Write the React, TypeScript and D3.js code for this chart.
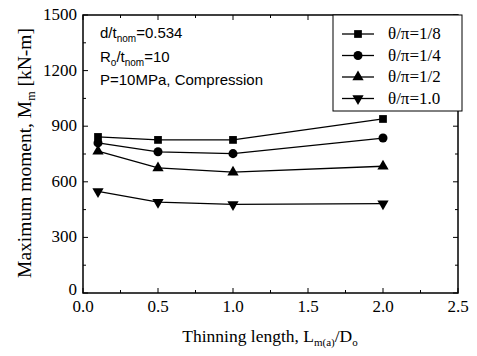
import * as d3 from 'd3';

const xValues = [0.1, 0.5, 1.0, 2.0];
const seriesNames = ['θ/π=1/8', 'θ/π=1/4', 'θ/π=1/2', 'θ/π=1.0'];
const squareVals = [842, 826, 826, 939];
const circleVals = [810, 762, 752, 836];
const triUpVals = [765, 675, 652, 684];
const triDownVals = [548, 490, 478, 482];
const xTicks = [0, 0.5, 1.0, 1.5, 2.0, 2.5];
const yTicks = [0, 300, 600, 900, 1200, 1500];

const W = 477, H = 356;
const M = { left: 83, right: 19, top: 15, bottom: 63 };

const serif = '"Liberation Serif", "Times New Roman", serif';
const sans = '"Liberation Sans", Arial, sans-serif';

const series = [
  { name: seriesNames[0], vals: squareVals, sym: d3.symbolSquare, size: 60, rot: 0 },
  { name: seriesNames[1], vals: circleVals, sym: d3.symbolCircle, size: 64, rot: 0 },
  { name: seriesNames[2], vals: triUpVals, sym: d3.symbolTriangle, size: 55, rot: 0 },
  { name: seriesNames[3], vals: triDownVals, sym: d3.symbolTriangle, size: 55, rot: 180 },
];

export default function App() {
  const x = d3.scaleLinear().domain([0, 2.5]).range([M.left, W - M.right]);
  const y = d3.scaleLinear().domain([0, 1500]).range([H - M.bottom, M.top]);
  const line = d3.line<[number, number]>().x(d => x(d[0])).y(d => y(d[1]));
  const x0 = M.left, x1 = W - M.right, y0 = H - M.bottom, y1 = M.top;

  const xMinor = d3.range(0.25, 2.5, 0.5);
  const yMinor = d3.range(150, 1500, 300);

  return (
    <svg width={W} height={H} style={{ position: 'absolute', left: 0, top: 0, background: '#fff' }}>
      {/* ticks, inward on all four sides */}
      <g stroke="#000" strokeWidth={1}>
        {xTicks.map(t => (
          <g key={'xt' + t}>
            <line x1={x(t)} x2={x(t)} y1={y0} y2={y0 - 5} />
            <line x1={x(t)} x2={x(t)} y1={y1} y2={y1 + 5} />
          </g>
        ))}
        {xMinor.map(t => (
          <g key={'xm' + t}>
            <line x1={x(t)} x2={x(t)} y1={y0} y2={y0 - 3} />
            <line x1={x(t)} x2={x(t)} y1={y1} y2={y1 + 3} />
          </g>
        ))}
        {yTicks.map(t => (
          <g key={'yt' + t}>
            <line x1={x0} x2={x0 + 5} y1={y(t)} y2={y(t)} />
            <line x1={x1} x2={x1 - 5} y1={y(t)} y2={y(t)} />
          </g>
        ))}
        {yMinor.map(t => (
          <g key={'ym' + t}>
            <line x1={x0} x2={x0 + 3} y1={y(t)} y2={y(t)} />
            <line x1={x1} x2={x1 - 3} y1={y(t)} y2={y(t)} />
          </g>
        ))}
      </g>
      <rect x={x0} y={y1} width={x1 - x0} height={y0 - y1} fill="none" stroke="#000" strokeWidth={1.5} />

      {/* tick labels */}
      <g fontFamily={serif} fontSize={17} fill="#000">
        {xTicks.map(t => (
          <text key={'xl' + t} x={x(t)} y={y0 + 19} textAnchor="middle">{d3.format('.1f')(t)}</text>
        ))}
        {yTicks.map(t => (
          <text key={'yl' + t} x={x0 - 6} y={y(t) + (t === 0 ? 2 : 5)} textAnchor="end">{t}</text>
        ))}
      </g>

      {/* axis titles */}
      <text x={270} y={H - 14} textAnchor="middle" fontFamily={serif} fontSize={17.5}>
        Thinning length, L<tspan fontSize={11} dy={4}>m(a)</tspan><tspan dy={-4}>/D</tspan><tspan fontSize={11} dy={4}>o</tspan>
      </text>
      <text transform={`translate(31,153) rotate(-90)`} textAnchor="middle" fontFamily={serif} fontSize={19.5}>
        Maximum moment, M<tspan fontSize={12} dy={4}>m</tspan><tspan dy={-4}> [kN-m]</tspan>
      </text>

      {/* data */}
      {series.map(s => {
        const pts = xValues.map((v, i) => [v, s.vals[i]] as [number, number]);
        const sym = d3.symbol().type(s.sym).size(s.size)();
        return (
          <g key={s.name}>
            <path d={line(pts) ?? ''} fill="none" stroke="#000" strokeWidth={1.3} />
            {pts.map((p, i) => (
              <path key={i} d={sym ?? ''} transform={`translate(${x(p[0])},${y(p[1])}) rotate(${s.rot})`} fill="#000" />
            ))}
          </g>
        );
      })}

      {/* annotation */}
      <g fontFamily={sans} fontSize={15} fill="#000">
        <text x={100} y={38}>d/t<tspan fontSize={10} dy={4}>nom</tspan><tspan dy={-4}>=0.534</tspan></text>
        <text x={100} y={62}>R<tspan fontSize={10} dy={4}>o</tspan><tspan dy={-4}>/t</tspan><tspan fontSize={10} dy={4}>nom</tspan><tspan dy={-4}>=10</tspan></text>
        <text x={100} y={85}>P=10MPa, Compression</text>
      </g>

      {/* legend */}
      <rect x={333} y={15} width={129} height={96} fill="#fff" stroke="#000" strokeWidth={1} />
      {series.map((s, i) => {
        const ly = 34 + i * 21.5;
        const sym = d3.symbol().type(s.sym).size(s.size)();
        return (
          <g key={'lg' + i}>
            <line x1={342} x2={374} y1={ly} y2={ly} stroke="#000" strokeWidth={1.3} />
            <path d={sym ?? ''} transform={`translate(358,${ly}) rotate(${s.rot})`} fill="#000" />
            <text x={388} y={ly + 5} fontFamily={serif} fontSize={17}>{s.name}</text>
          </g>
        );
      })}
    </svg>
  );
}
